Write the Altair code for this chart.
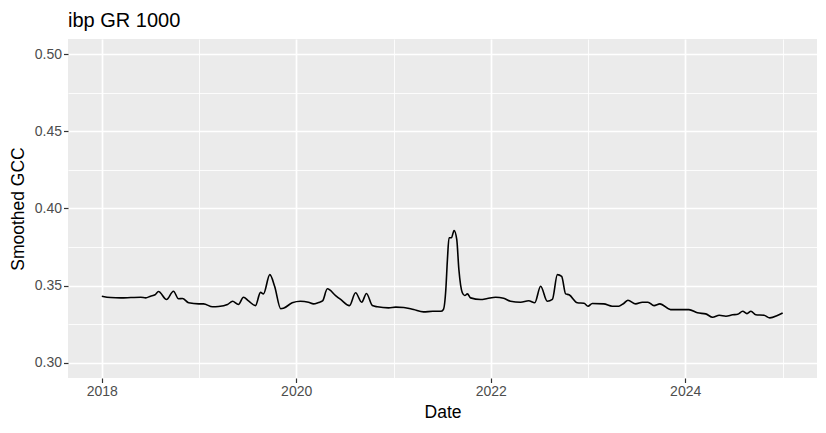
import altair as alt
import pandas as pd

dates = [
    "2018-01-01", "2018-02-03", "2018-03-13", "2018-04-20", "2018-05-27", "2018-06-15",
    "2018-07-03", "2018-07-20", "2018-08-02", "2018-09-01", "2018-09-27", "2018-10-16",
    "2018-10-31", "2018-11-23", "2018-12-31", "2019-01-18", "2019-02-21", "2019-03-15",
    "2019-04-18", "2019-05-07", "2019-05-29", "2019-06-17", "2019-07-06", "2019-08-01",
    "2019-08-20", "2019-08-31", "2019-09-24", "2019-10-12", "2019-11-04", "2019-11-14",
    "2019-12-17", "2020-01-17", "2020-02-16", "2020-03-06", "2020-03-25", "2020-04-09",
    "2020-04-27", "2020-05-28", "2020-06-16", "2020-07-19", "2020-08-11", "2020-09-03",
    "2020-09-21", "2020-10-13", "2020-11-01", "2020-12-13", "2021-01-09", "2021-02-08",
    "2021-03-17", "2021-04-23", "2021-05-28", "2021-06-27", "2021-07-07", "2021-07-16",
    "2021-07-22", "2021-07-28", "2021-08-06", "2021-08-16", "2021-08-26", "2021-09-03",
    "2021-09-16", "2021-09-25", "2021-10-05", "2021-10-17", "2021-11-24", "2021-12-19",
    "2022-01-19", "2022-02-18", "2022-03-16", "2022-04-23", "2022-05-23", "2022-06-15",
    "2022-07-07", "2022-08-01", "2022-08-20", "2022-09-08", "2022-09-24", "2022-10-09",
    "2022-10-22", "2022-11-22", "2022-12-17", "2023-01-01", "2023-01-17", "2023-03-01",
    "2023-04-02", "2023-04-27", "2023-05-16", "2023-05-31", "2023-06-29", "2023-07-24",
    "2023-08-14", "2023-09-06", "2023-09-28", "2023-11-07", "2024-01-15", "2024-02-16",
    "2024-03-18", "2024-04-13", "2024-05-08", "2024-06-02", "2024-06-27", "2024-07-16",
    "2024-08-04", "2024-08-20", "2024-09-04", "2024-09-22", "2024-10-23", "2024-11-14",
    "2024-12-12", "2025-01-01",
]
gcc = [
    0.3431, 0.3422, 0.3420, 0.3422, 0.3424, 0.3420,
    0.3431, 0.3440, 0.3461, 0.3409, 0.3463, 0.3414,
    0.3416, 0.3388, 0.3381, 0.3381, 0.3362, 0.3364,
    0.3377, 0.3398, 0.3377, 0.3424, 0.3400, 0.3370,
    0.3456, 0.3446, 0.3571, 0.3495, 0.3349, 0.3352,
    0.3388, 0.3398, 0.3392, 0.3381, 0.3390, 0.3400,
    0.3479, 0.3435, 0.3410, 0.3370, 0.3453, 0.3392,
    0.3448, 0.3370, 0.3362, 0.3355, 0.3360, 0.3358,
    0.3344, 0.3329, 0.3333, 0.3333, 0.3345, 0.3474,
    0.3669, 0.3810, 0.3810, 0.3857, 0.3799, 0.3604,
    0.3453, 0.3435, 0.3446, 0.3420, 0.3409, 0.3416,
    0.3424, 0.3418, 0.3398, 0.3392, 0.3401, 0.3388,
    0.3495, 0.3398, 0.3410, 0.3571, 0.3560, 0.3446,
    0.3440, 0.3388, 0.3385, 0.3366, 0.3383, 0.3381,
    0.3366, 0.3366, 0.3385, 0.3405, 0.3381, 0.3392,
    0.3392, 0.3370, 0.3381, 0.3344, 0.3344, 0.3323,
    0.3316, 0.3294, 0.3307, 0.3301, 0.3310, 0.3314,
    0.3333, 0.3318, 0.3333, 0.3310, 0.3307, 0.3290,
    0.3305, 0.3322,
]

x_grid_years = [2018, 2019, 2020, 2021, 2022, 2023, 2024, 2025]
y_grid_values = [0.30, 0.325, 0.35, 0.375, 0.40, 0.425, 0.45, 0.475, 0.50]

df = pd.DataFrame({"Date": pd.to_datetime(dates), "GCC": gcc})

FONT = "Liberation Sans"
major_x = "year(datum.value) % 2 == 0"
major_y = "abs(datum.value * 20 - round(datum.value * 20)) < 0.001"

x_axis = alt.Axis(
    values=[alt.DateTime(year=y, month=1, date=1) for y in x_grid_years],
    labelExpr=f"{major_x} ? timeFormat(datum.value, '%Y') : ''",
    grid=True,
    gridColor="white",
    gridWidth=alt.condition(major_x, alt.value(1.7), alt.value(0.85)),
    tickOpacity=alt.condition(major_x, alt.value(1), alt.value(0)),
    tickColor="#333333",
    tickSize=4.5,
    tickWidth=1.2,
    domain=False,
    labelColor="#4D4D4D",
    labelFontSize=14,
    labelFont=FONT,
    labelPadding=2,
    labelFlush=False,
    labelOverlap=False,
    title="Date",
    titleFont=FONT,
    titleFontSize=17.5,
    titleFontWeight="normal",
    titleColor="black",
    titlePadding=5,
)

y_axis = alt.Axis(
    values=y_grid_values,
    labelExpr=f"{major_y} ? format(datum.value, '.2f') : ''",
    grid=True,
    gridColor="white",
    gridWidth=alt.condition(major_y, alt.value(1.7), alt.value(0.85)),
    tickOpacity=alt.condition(major_y, alt.value(1), alt.value(0)),
    tickColor="#333333",
    tickSize=4.5,
    tickWidth=1.2,
    domain=False,
    labelColor="#4D4D4D",
    labelFontSize=14,
    labelFont=FONT,
    labelPadding=2,
    labelFlush=False,
    labelOverlap=False,
    title="Smoothed GCC",
    titleFont=FONT,
    titleFontSize=17.5,
    titleFontWeight="normal",
    titleColor="black",
    titlePadding=7,
)

chart = (
    alt.Chart(df)
    .mark_line(color="black", strokeWidth=1.6, interpolate="monotone")
    .encode(
        x=alt.X(
            "Date:T",
            axis=x_axis,
            scale=alt.Scale(
                domain=[
                    alt.DateTime(year=2017, month=8, date=27),
                    alt.DateTime(year=2025, month=5, date=10),
                ],
                nice=False,
            ),
        ),
        y=alt.Y(
            "GCC:Q",
            axis=y_axis,
            scale=alt.Scale(domain=[0.29, 0.51], nice=False, zero=False),
        ),
    )
    .properties(
        width=749,
        height=339,
        title=alt.TitleParams(
            "ibp GR 1000",
            anchor="start",
            frame="group",
            font=FONT,
            fontSize=20,
            fontWeight="normal",
            color="black",
            offset=8,
        ),
        autosize=alt.AutoSizeParams(type="none"),
        padding={"left": 60, "top": 31, "right": 0, "bottom": 47},
    )
    .configure(background="white")
    .configure_view(fill="#EBEBEB", strokeWidth=0)
)

chart.save("out.html", embed_options={"renderer": "svg", "actions": False})
